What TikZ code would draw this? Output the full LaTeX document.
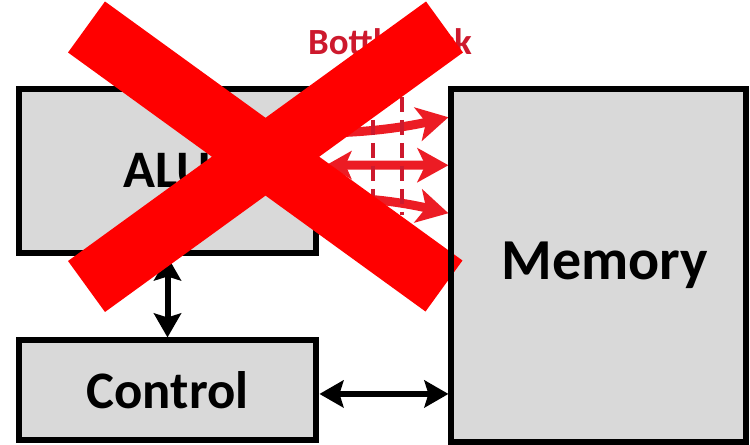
\documentclass[tikz,border=0pt]{standalone}
\usepackage{fontspec}
\setmainfont{Carlito}
\usepackage{tikz}
\usetikzlibrary{positioning,arrows.meta}

\definecolor{blockgray}{RGB}{217,217,217}
\definecolor{flowred}{RGB}{236,28,36}
\definecolor{neckred}{RGB}{205,25,45}
\definecolor{crossred}{RGB}{255,0,0}

\tikzset{
  block/.style={draw=black, fill=blockgray, line width=0.12cm, font=\bfseries\fontsize{30}{36}\selectfont},
  biarrow/.style={line width=0.12cm, {Stealth[length=0.48cm, width=0.54cm, inset=0.08cm]}-{Stealth[length=0.48cm, width=0.54cm, inset=0.08cm]}},
  flow/.style={draw=flowred, line width=0.18cm, -{Stealth[length=0.62cm, width=0.68cm, inset=0.16cm]}},
  neck/.style={draw=neckred, line width=0.08cm, dash pattern=on 0.3cm off 0.16cm},
  necklabel/.style={text=neckred, font=\bfseries\fontsize{21}{25}\selectfont},
  cross/.style={draw=crossred, line width=1.26cm}
}

\begin{document}
\begin{tikzpicture}[x=0.02cm, y=-0.02cm]
\useasboundingbox (0,0) rectangle (750,445);

%% units
\node[block, minimum width=5.96cm, minimum height=3.3cm](alu) at (167.5,171){ALU};
\node[block, below=1.62cm of alu, minimum width=5.96cm, minimum height=2cm](control){Control};
\node[block, right=2.58cm of alu.north east, anchor=north west, minimum width=5.89cm, minimum height=7.07cm, font=\bfseries\fontsize{33}{40}\selectfont](memory){\hspace*{0.24cm}Memory};

\draw[biarrow] (alu.south) -- (control.north);
\draw[biarrow] ([yshift=-0.07cm]control.east) -- ([yshift=-0.07cm]control.east -| memory.west);

%% BOTTLENECK
\draw[flow] ([yshift=0.76cm]alu.east) .. controls (370,133) and (410,126) .. ([yshift=2.96cm]memory.west);
\draw[flow, {Stealth[length=0.5cm, width=0.56cm, inset=0.12cm]}-{Stealth[length=0.62cm, width=0.68cm, inset=0.16cm]}, shorten <=0.14cm] ([yshift=0.12cm]alu.east) -- ([yshift=2.0cm]memory.west);
\draw[flow] ([yshift=-0.52cm]alu.east) .. controls (370,197) and (410,204) .. ([yshift=1.04cm]memory.west);

\draw[neck] (373,97) -- (373,215);
\draw[neck] (402,97) -- (402,215);

\node[necklabel](bottleneck) at (390,42){Bottleneck};

% the cross
\draw[cross] (86.5,27) -- (444,286);
\draw[cross] (444.5,27) -- (86.5,286.5);

\node[draw=black, line width=0.12cm, minimum width=5.89cm, minimum height=7.07cm] at (memory.center){};

\end{tikzpicture}
\end{document}
